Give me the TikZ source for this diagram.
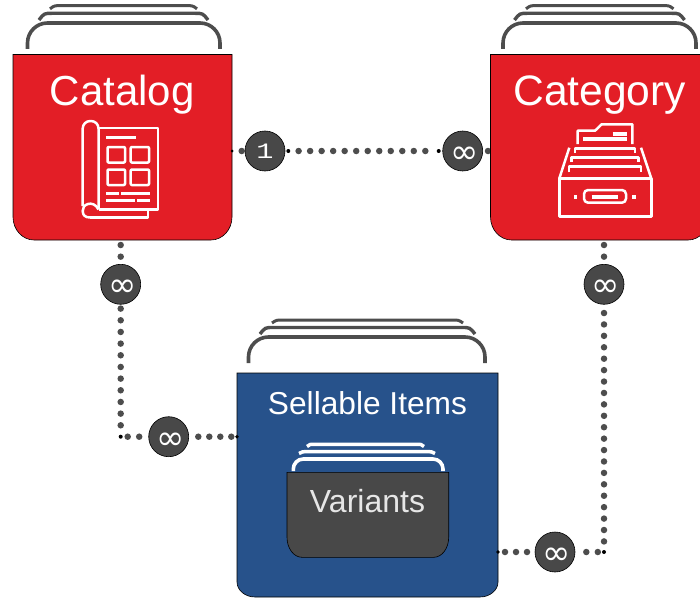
\documentclass[tikz,border=0pt]{standalone}
\usepackage{fontspec}
\usetikzlibrary{backgrounds}
\setmainfont{Liberation Sans}
\newfontfamily\symfont{DejaVu Sans}
\newfontfamily\monofont{Liberation Mono}
\definecolor{cardred}{HTML}{E31E26}
\definecolor{cardblue}{HTML}{27528B}
\definecolor{darkgrey}{HTML}{484848}
\definecolor{stackgrey}{HTML}{4D4D4D}
\definecolor{softwhite}{HTML}{E6E6E6}
\tikzset{
  dots/.style={draw=stackgrey,line width=6.5pt,line cap=round,dash pattern=on 0pt off #1pt},
  dots/.default=11.5,
  hub/.style={circle,draw=black,line width=0.6pt,fill=darkgrey,minimum size=40pt,inner sep=0pt,text=white},
  boxanchor/.style={rectangle,inner sep=0pt,outer sep=0pt},
  stackline/.style={draw=#1,line width=3.6pt},
  icon/.style={draw=white,line width=2.5pt,line join=round},
  iconbar/.style={draw=white,line width=3.2pt},
  title/.style={anchor=base,text=white,inner sep=0pt},
  enddot/.style={fill=black},
}
\newcommand{\manyglyph}{\hspace*{4pt}\raisebox{-12.5pt}[0pt][0pt]{\symfont\fontsize{34}{34}\selectfont ∞}}
\newcommand{\oneglyph}{\monofont\fontsize{22}{22}\selectfont\scalebox{1.3}[1]{1}}
% name, x0, y0, x1, y1, rx, ry, fill
\newcommand{\cardshape}[8]{%
  \pgfmathsetmacro{\cxa}{#2+#6}\pgfmathsetmacro{\cxb}{#4-#6}%
  \pgfmathsetmacro{\cya}{#5-#7}%
  \pgfmathsetmacro{\kxa}{#2+0.45*#6}\pgfmathsetmacro{\kxb}{#4-0.45*#6}%
  \pgfmathsetmacro{\kya}{#5-0.45*#7}%
  \pgfmathsetmacro{\mx}{(#2+#4)/2}\pgfmathsetmacro{\my}{(#3+#5)/2}%
  \pgfmathsetmacro{\cardw}{#4-#2}\pgfmathsetmacro{\cardh}{#5-#3}%
  \path[fill=#8,draw=black,line width=0.6pt] (#2,#3) -- (#4,#3) -- (#4,\cya)
    .. controls (#4,\kya) and (\kxb,#5) .. (\cxb,#5) -- (\cxa,#5)
    .. controls (\kxa,#5) and (#2,\kya) .. (#2,\cya) -- cycle;
  \node[boxanchor,minimum width=\cardw pt,minimum height=\cardh pt] (#1) at (\mx,\my) {};
}
% colour, xl, xr, ybottom, ytop, radius of the front arc
\newcommand{\frontarc}[6]{%
  \draw[stackline=#1,rounded corners=#6pt] (#2,#4) -- (#2,#5) -- (#3,#5) -- (#3,#4);
}
% colour, xl, xr, yend, ytop, inset, width
\newcommand{\backarc}[7]{%
  \pgfmathsetmacro{\ia}{#2+#6}\pgfmathsetmacro{\ib}{#3-#6}%
  \pgfmathsetmacro{\ja}{#2+0.4*#6}\pgfmathsetmacro{\jb}{#3-0.4*#6}%
  \draw[draw=#1,line width=#7pt] (#2,#4) .. controls (\ja,#5) and (\ja,#5) .. (\ia,#5) -- (\ib,#5)
    .. controls (\jb,#5) and (\jb,#5) .. (#3,#4);
}
\begin{document}
\begin{tikzpicture}[x=1pt,y=-1pt]
\useasboundingbox (0,0) rectangle (700,599);
\clip (0,0) rectangle (700,599);

% stacks behind the cards
\frontarc{stackgrey}{27.5}{220}{49}{23}{20}
\backarc{stackgrey}{39}{208}{20}{13.3}{13}{3.4}
\backarc{stackgrey}{50}{197}{8.8}{5.6}{11}{3}
\frontarc{stackgrey}{503}{696}{49}{23}{20}
\backarc{stackgrey}{514.5}{684.5}{20}{13.3}{13}{3.4}
\backarc{stackgrey}{526}{673.5}{8.8}{5.6}{11}{3}
\frontarc{stackgrey}{248.5}{485}{363}{337}{20}
\backarc{stackgrey}{260}{475}{334}{327.5}{13}{3.4}
\backarc{stackgrey}{272}{463}{323}{320}{11}{3}

% cards
\cardshape{catalog}{13}{54.5}{232}{240}{21}{23}{cardred}
\cardshape{category}{490.5}{54.5}{709}{240}{21}{23}{cardred}
\cardshape{sellable}{237}{373}{498}{597}{18}{15}{cardblue}

% inner stack and card
\frontarc{white}{293.3}{443}{471}{459}{10}
\backarc{white}{299}{435}{453.5}{451.7}{8}{3.5}
\backarc{white}{307}{424}{446.5}{444.3}{7}{3.5}
\cardshape{variants}{287}{472.3}{448.7}{557.3}{15}{20}{darkgrey}

% titles
\node[title,font=\fontsize{42}{42}\selectfont] (catalogtitle) at (122.3,105) {Catalog};
\node[title,font=\fontsize{42.6}{42}\selectfont] (categorytitle) at (599.7,105) {Category};
\node[title,font=\fontsize{31.7}{32}\selectfont] (sellabletitle) at (367.5,414) {Sellable Items};
\node[title,font=\fontsize{32}{32}\selectfont,text=softwhite] (variantstitle) at (367.5,512.5) {Variants};

% hubs
\node[hub] (one) at (265,151) {\oneglyph};
\node[hub] (manyb) at (462.7,151) {\manyglyph};
\node[hub] (manyc) at (120.7,284.3) {\manyglyph};
\node[hub] (manyd) at (604,284.3) {\manyglyph};
\node[hub] (manye) at (168.7,436.7) {\manyglyph};
\node[hub] (manyf) at (555,552) {\manyglyph};
\coordinate (bendl) at (120.7,436.7);
\coordinate (bendr) at (604,552);

% connectors
\begin{scope}[on background layer]
\draw[dots=11.7,dash phase=2pt] (catalog.east |- one) -- (one.west);
\draw[dots=11.52] ([xshift=13.3pt]one.east) -- ([xshift=-14pt]manyb.west);
\draw[dots,dash phase=6.5pt] (manyb.east) -- (category.west |- manyb);
\draw[dots=11.67,dash phase=6.67pt] (catalog.south -| manyc) -- (manyc.north);
\draw[dots=11.67,dash phase=7.67pt] (manyc.south) -- ([yshift=8pt]bendl);
\draw[dots] ([xshift=7pt]bendl) -- (manye.west);
\draw[dots=11,dash phase=1.7pt] (manye.east) -- (sellable.west |- manye);
\draw[dots=11.67,dash phase=6.67pt] (category.south -| manyd) -- (manyd.north);
\draw[dots=11.42,dash phase=3pt] (manyd.south) -- ([yshift=8pt]bendr);
\draw[dots=11,dash phase=4pt] (sellable.east |- manyf) -- (manyf.west);
\draw[dots,dash phase=0.5pt] (manyf.east) -- (bendr);
\end{scope}
% small connector end marks
\fill[enddot] (bendl) circle (2);
\fill[enddot] (bendr) circle (2);
\fill[enddot] (catalog.east |- one) circle (1.5);
\fill[enddot] ([xshift=3pt]one.east) circle (2);
\fill[enddot] ([xshift=-3.7pt]manyb.west) circle (2);
\fill[enddot] (sellable.west |- manye) circle (1.8);
\fill[enddot] (sellable.east |- manyf) circle (1.8);

% catalog icon
\begin{scope}[icon]
\draw (98.5,128) -- (158,128) -- (158,209.5) -- (98.5,209.5);
\draw (148,209.5) -- (148,217.5) -- (90,217.5);
\draw[rounded corners=7.5pt] (82.7,206) -- (82.7,121) -- (98.5,121) -- (98.5,209);
\draw (98.5,209.5) .. controls (96,204) and (91,203) .. (88,204)
      .. controls (84,205) and (82.7,208) .. (82.7,211)
      .. controls (82.7,215) and (85,217.5) .. (90,217.5);
\draw[rounded corners=1pt] (107.5,147) rectangle (125,162.5);
\draw[rounded corners=1pt] (130.7,147) rectangle (149,162.5);
\draw[rounded corners=1pt] (107.5,169.5) rectangle (125,185);
\draw[rounded corners=1pt] (130.7,169.5) rectangle (149,185);
\end{scope}
\draw[iconbar,line width=3.5pt] (106,137.7) -- (136,137.7);
\draw[iconbar] (106,193.7) -- (119,193.7);
\draw[iconbar] (121,193.7) -- (150,193.7);
\draw[iconbar] (106,200.5) -- (135,200.5);
\draw[iconbar] (137,200.5) -- (150,200.5);

% category icon
\begin{scope}[icon]
\draw (559.3,178.5) rectangle (651.3,216.7);
\draw (559.3,178.5) -- (569.3,147.7);
\draw (651.3,178.5) -- (641,147.7);
\draw (575,153) -- (575,148.3) -- (635,148.3) -- (635,153);
\draw (571.7,162) -- (571.7,157.3) -- (638.3,157.3) -- (638.3,162);
\draw (569,172.3) -- (569,166.7) -- (641,166.7) -- (641,172.3);
\draw (577.7,144) -- (577.7,130.7) -- (595,130.7) -- (601.7,124.3) -- (632.3,124.3) -- (632.3,144);
\draw[rounded corners=4pt] (584,190) rectangle (626,202.7);
\end{scope}
\draw[iconbar] (612.7,134) -- (626.7,134);
\draw[iconbar] (583,139) -- (626.7,139);
\draw[iconbar,line width=4pt] (591.7,196.7) -- (618.3,196.7);
\fill[white] (574.2,195.2) rectangle (577.2,198.7);
\fill[white] (632.2,195.2) rectangle (635.7,198.7);
\end{tikzpicture}
\end{document}
